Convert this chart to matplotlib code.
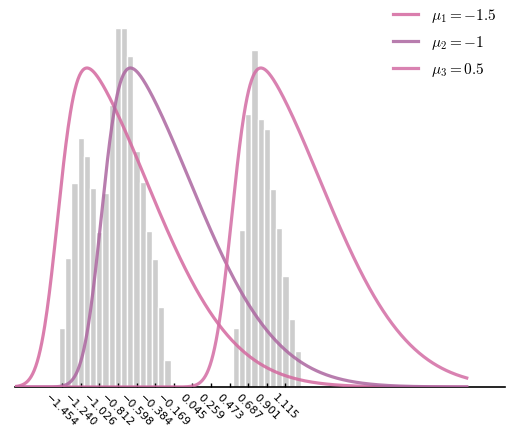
import math
import numpy as np
import matplotlib
matplotlib.use('Agg')
import matplotlib.pyplot as plt

plt.rcParams['mathtext.fontset'] = 'cm'

# histogram: first bin edge, bin width and bar height per bin
bin_start = -1.454
bin_width = 0.071361
counts = [59, 129, 204, 249, 231, 199, 155, 194, 282, 359, 359, 331, 236, 205, 156, 128, 80, 27,
          0, 0, 0, 0, 0, 0, 0, 0, 0, 0,
          59, 157, 273, 337, 268, 258, 198, 159, 111, 68, 36]
tick_labels = ['\u22121.454', '\u22121.240', '\u22121.026', '\u22120.812', '\u22120.598',
               '\u22120.384', '\u22120.169', '0.045', '0.259', '0.473', '0.687', '0.901', '1.115']

# skew-normal curves, one per mu
mus = [-1.5, -1, 0.5]
labels = [r'$\mu_1=-1.5$', r'$\mu_2=-1$', r'$\mu_3=0.5$']
colors = ['#d4689f', '#ac66a0', '#d36ca4']
skew = 6.0
width = 1.0

edges = bin_start + bin_width * np.arange(len(counts))

fig = plt.figure(figsize=(5.08, 4.27), dpi=100)
ax = fig.add_axes([15 / 508, 39 / 427, 490 / 508, 377 / 427])
ax.bar(edges, counts, width=bin_width, color='#cdcdcd', edgecolor='white', linewidth=1)
ax.set_xticks(edges[:37:3])
ax.set_xticklabels(tick_labels, rotation=-45, fontsize=8)
ax.tick_params(axis='x', direction='in', length=3, width=1, pad=3)
ax.set_yticks([])
for s in ['left', 'right', 'top']:
    ax.spines[s].set_visible(False)
ax.spines['bottom'].set_linewidth(1.2)
ax.set_xlim(-1.995, 3.64)
ax.set_ylim(0, 377)

ax2 = ax.twinx()
x = np.linspace(-2.0, 3.2, 600)
erf = np.vectorize(math.erf)
for mu, lab, c in zip(mus, labels, colors):
    z = (x - mu) / width
    y = np.exp(-z ** 2 / 2) * (1 + erf(skew * z / np.sqrt(2)))
    y = y / y.max()
    ax2.plot(x, y, color=c, lw=2.3, alpha=0.85, label=lab)
ax2.set_ylim(0, 377 / 319)
ax2.set_yticks([])
for s in ['left', 'right', 'top', 'bottom']:
    ax2.spines[s].set_visible(False)

fig.legend(loc='upper left', bbox_to_anchor=(387 / 508, 426 / 427), borderaxespad=0,
           frameon=False, fontsize=11, handlelength=1.6, handletextpad=0.9,
           labelspacing=0.6)

fig.savefig('out.png', dpi=100)
